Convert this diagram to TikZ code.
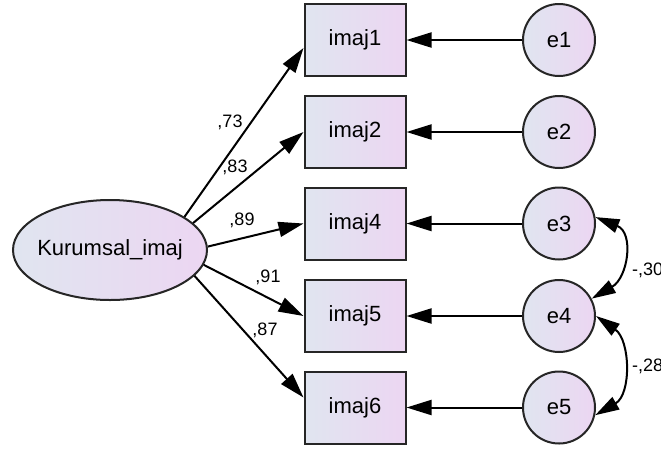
\documentclass[tikz,border=0pt]{standalone}
\usepackage{fontspec}
\setmainfont{Liberation Sans}
\usetikzlibrary{arrows.meta,shapes.geometric}
\definecolor{fillA}{RGB}{224,229,240}
\definecolor{fillB}{RGB}{236,214,242}
\begin{document}
\begin{tikzpicture}[x=1pt,y=1pt,
  shaded/.style={left color=fillA,right color=fillB,draw=black!85,line width=2pt},
  obs/.style={shaded,rectangle,minimum width=101pt,minimum height=72pt,inner sep=0pt,font=\fontsize{22}{25}\selectfont},
  err/.style={shaded,circle,minimum size=72pt,inner sep=0pt,font=\fontsize{22}{25}\selectfont},
  lat/.style={shaded,ellipse,minimum width=194pt,minimum height=100pt,inner xsep=-16pt,inner ysep=0pt,font=\fontsize{22}{25}\selectfont},
  pth/.style={line width=2pt,-{Triangle[length=25pt,width=15pt]}},
  cov/.style={line width=2pt,{Triangle[length=24pt,width=14pt]}-{Triangle[length=24pt,width=14pt]}},
  lab/.style={font=\fontsize{18}{20}\selectfont,inner sep=0pt}
]
\useasboundingbox (0,0) rectangle (661,-451);
\fill[white] (0,0) rectangle (661,-451);

\node[lat] (K) at (110,-250) {Kurumsal\_imaj};

\node[obs] (imaj1) at (355,-40) {imaj1};
\node[obs] (imaj2) at (355,-132) {imaj2};
\node[obs] (imaj4) at (355,-223.5) {imaj4};
\node[obs] (imaj5) at (355,-316) {imaj5};
\node[obs] (imaj6) at (355,-407.5) {imaj6};

\node[err] (e1) at (559,-40) {e1};
\node[err] (e2) at (559,-132) {e2};
\node[err] (e3) at (559,-223.5) {e3};
\node[err] (e4) at (559,-316) {e4};
\node[err] (e5) at (559,-407.5) {e5};

\draw[pth] (K.24) -- ([yshift=-8pt]imaj1.west);
\draw[pth] (K.18) -- (imaj2.west);
\draw[pth] (K.2) -- (imaj4.west);
\draw[pth] (K.-9) -- (imaj5.west);
\draw[pth] (K.-17) -- ([yshift=10pt]imaj6.west);

\draw[pth] (e1) -- (imaj1);
\draw[pth] (e2) -- (imaj2);
\draw[pth] (e3) -- (imaj4);
\draw[pth] (e4) -- (imaj5);
\draw[pth] (e5) -- (imaj6);

\draw[cov] (e3.10) .. controls +(-22:42) and +(30:42) .. (e4.28);
\draw[cov] (e4.0) .. controls +(-35:42) and +(30:42) .. (e5.-12);

\node[lab] (l1) at (230,-122) {,73};
\node[lab] (l2) at (235,-167) {,83};
\node[lab] (l3) at (242,-220) {,89};
\node[lab] (l4) at (268,-277) {,91};
\node[lab] (l5) at (265,-330) {,87};
\node[lab,anchor=west] (c1) at (632,-270) {-,30};
\node[lab,anchor=west] (c2) at (632,-366) {-,28};
\end{tikzpicture}
\end{document}
